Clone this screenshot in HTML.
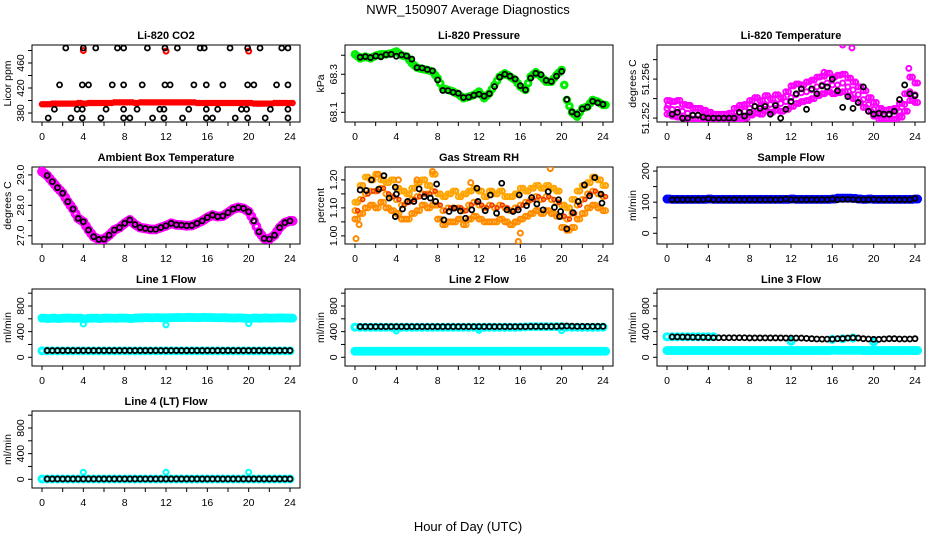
<!DOCTYPE html>
<html><head><meta charset="utf-8">
<style>
html,body{margin:0;padding:0;background:#fff;}
svg{display:block;font-family:"Liberation Sans",sans-serif;}
</style></head>
<body>
<svg id="chart" width="936" height="540" viewBox="0 0 936 540">
<text x="468" y="14" text-anchor="middle" font-size="13">NWR_150907  Average Diagnostics</text>
<text x="468" y="531" text-anchor="middle" font-size="13">Hour of Day (UTC)</text>
</svg>
<script>
const H49 = [0,0.5,1,1.5,2,2.5,3,3.5,4,4.5,5,5.5,6,6.5,7,7.5,8,8.5,9,9.5,10,10.5,11,11.5,12,12.5,13,13.5,14,14.5,15,15.5,16,16.5,17,17.5,18,18.5,19,19.5,20,20.5,21,21.5,22,22.5,23,23.5,24];
const xTicks = [0,2,4,6,8,10,12,14,16,18,20,22,24];
const xTickLabels = ["0","","4","","8","","12","","16","","20","","24"];

// CO2
const co2Red = [394,394,395,395,395,395,395,396,395,396,396,396,396,396,397,397,397,397,396,397,397,397,397,397,397,397,397,397,397,397,396,396,396,396,396,396,396,396,396,396,396,395,395,395,395,396,396,396,396];
const co2RedOutHours = [4,12,20];
const co2RedOutVals = [480,479,479];
const co2Hours = [2.3,4.0,5.2,7.3,7.9,10.2,11.9,13.1,15.3,15.7,18.2,19.9,21.1,23.2,23.8,
 1.7,3.9,4.5,6.8,7.9,9.7,11.9,12.4,14.7,15.9,17.5,19.9,20.5,22.7,23.8,
 1.2,3.4,3.9,6.2,7.9,9.2,11.4,11.8,14.2,15.9,17.0,19.3,19.8,22.1,23.8,
 0.6,2.8,3.9,5.7,7.9,8.5,10.7,11.8,13.6,15.9,16.5,18.7,19.9,21.6,23.8];
const co2Vals = [484,484,484,484,484,484,484,484,484,484,484,484,484,484,484,
 425,425,425,425,425,425,425,425,425,425,425,425,425,425,425,
 386,386,386,386,386,386,386,386,386,386,386,386,386,386,386,
 372,372,372,372,372,372,372,372,372,372,372,372,372,372,372];

// Pressure
const presGreen = [68.405,68.384,68.393,68.384,68.398,68.405,68.405,68.41,68.42,68.40,68.393,68.358,68.335,68.328,68.323,68.314,68.279,68.226,68.218,68.209,68.195,68.174,68.182,68.191,68.209,68.174,68.2,68.244,68.288,68.305,68.288,68.27,68.235,68.218,68.288,68.311,68.288,68.261,68.261,68.296,68.323,68.165,68.1,68.077,68.121,68.13,68.165,68.156,68.139];
const presBlack = [68.390,68.393,68.388,68.396,68.392,68.403,68.405,68.395,68.402,68.396,68.380,68.335,68.333,68.325,68.318,68.270,68.215,68.214,68.205,68.200,68.178,68.180,68.190,68.195,68.185,68.198,68.235,68.285,68.300,68.290,68.275,68.240,68.218,68.280,68.305,68.298,68.268,68.262,68.290,68.315,68.168,68.102,68.090,68.118,68.128,68.158,68.150,68.142];

// Li-820 temperature
const tMid = [51.2530,51.2529,51.2529,51.2527,51.2525,51.2523,51.2523,51.2522,51.2521,51.2520,51.2520,51.2520,51.2520,51.2522,51.2525,51.2527,51.2530,51.2532,51.2532,51.2534,51.2534,51.2535,51.2535,51.2537,51.2541,51.2544,51.2546,51.2547,51.2549,51.2552,51.2554,51.2556,51.2554,51.2554,51.2556,51.2552,51.2549,51.2544,51.2539,51.2534,51.2529,51.2523,51.2522,51.2523,51.2523,51.2527,51.2534,51.2547,51.2544];
const tHi = [51.2538,51.2537,51.2538,51.2534,51.2533,51.2530,51.2530,51.2528,51.2526,51.2524,51.2524,51.2524,51.2525,51.2530,51.2533,51.2534,51.2538,51.2541,51.2538,51.2543,51.2540,51.2544,51.2541,51.2547,51.2553,51.2555,51.2554,51.2557,51.2559,51.2562,51.2563,51.2566,51.2562,51.2564,51.2565,51.2561,51.2557,51.2552,51.2548,51.2541,51.2536,51.2530,51.2528,51.2529,51.2530,51.2535,51.2545,51.2562,51.2556];
const tLo = [51.2524,51.2522,51.2521,51.2520,51.2519,51.2519,51.2519,51.2519,51.2519,51.2519,51.2519,51.2519,51.2519,51.2519,51.2519,51.2520,51.2523,51.2525,51.2524,51.2527,51.2526,51.2528,51.2527,51.2529,51.2532,51.2535,51.2537,51.2538,51.2540,51.2543,51.2545,51.2547,51.2545,51.2546,51.2547,51.2543,51.2540,51.2536,51.2531,51.2527,51.2522,51.2519,51.2519,51.2519,51.2519,51.2521,51.2527,51.2538,51.2536];
const tOutHours = [17.0,17.9,15.2,23.4,0.1,2.1];
const tOutVals = [51.2595,51.2592,51.2567,51.2571,51.2533,51.2533];
const tBlack = [51.2524,51.2526,51.2520,51.2520,51.2523,51.2523,51.2521,51.2520,51.2520,51.2520,51.2520,51.2520,51.2520,51.2526,51.2522,51.2526,51.2532,51.2530,51.2532,51.2524,51.2533,51.2520,51.2529,51.2537,51.2545,51.2550,51.2529,51.2550,51.2545,51.2553,51.2552,51.2560,51.2548,51.2531,51.2542,51.2530,51.2536,51.2552,51.2527,51.2524,51.2525,51.2524,51.2524,51.2527,51.2539,51.2554,51.2545,51.2543];

// Ambient box temperature
const ambMag = [29.11,28.98,28.78,28.58,28.40,28.12,27.88,27.57,27.46,27.19,26.97,26.88,26.89,27.02,27.19,27.27,27.41,27.52,27.37,27.27,27.24,27.21,27.21,27.27,27.33,27.41,27.36,27.35,27.33,27.34,27.41,27.49,27.60,27.68,27.63,27.65,27.76,27.88,27.93,27.90,27.79,27.49,27.13,26.91,26.89,27.02,27.27,27.43,27.49];
const ambBlack = [28.98,28.78,28.58,28.40,28.12,27.88,27.57,27.46,27.19,26.97,26.88,26.89,27.02,27.19,27.27,27.41,27.52,27.37,27.27,27.24,27.21,27.21,27.27,27.33,27.41,27.36,27.35,27.33,27.34,27.41,27.49,27.60,27.68,27.63,27.65,27.76,27.88,27.93,27.90,27.79,27.49,27.13,26.91,26.89,27.02,27.27,27.43,27.49];

// Gas stream RH
const rhMid = [1.09,1.13,1.15,1.16,1.16,1.17,1.15,1.14,1.13,1.11,1.12,1.13,1.14,1.15,1.15,1.16,1.11,1.09,1.10,1.10,1.10,1.09,1.11,1.12,1.11,1.10,1.11,1.10,1.11,1.10,1.09,1.10,1.11,1.12,1.13,1.14,1.13,1.14,1.13,1.12,1.07,1.06,1.08,1.11,1.13,1.15,1.16,1.15,1.14];
const rhHi = [1.12,1.18,1.21,1.20,1.22,1.20,1.19,1.20,1.17,1.16,1.15,1.17,1.19,1.20,1.18,1.22,1.15,1.14,1.15,1.16,1.14,1.15,1.16,1.17,1.16,1.14,1.16,1.15,1.16,1.14,1.14,1.15,1.17,1.16,1.17,1.18,1.17,1.18,1.17,1.16,1.11,1.10,1.13,1.16,1.18,1.19,1.21,1.20,1.18];
const rhLo = [1.06,1.08,1.10,1.11,1.10,1.12,1.10,1.09,1.08,1.06,1.06,1.08,1.09,1.11,1.10,1.11,1.06,1.04,1.05,1.05,1.06,1.04,1.06,1.07,1.06,1.05,1.05,1.05,1.06,1.05,1.04,1.05,1.06,1.07,1.08,1.09,1.08,1.09,1.08,1.07,1.03,1.02,1.03,1.06,1.08,1.10,1.11,1.10,1.09];
const rhOutHours = [0.1,0.4,2.2,7.5,11.2,15.8,18.9,16.0,6.0,4.2];
const rhOutVals = [0.99,1.04,1.22,1.23,1.19,0.98,1.24,1.01,1.20,1.20];
const rhBlackHours = [0.5,1.1,1.6,2.3,2.8,3.3,3.9,4.0,3.9,4.6,5.1,5.7,6.2,6.7,7.3,7.8,7.9,8.6,9.1,9.6,10.2,10.7,11.3,11.8,11.9,12.6,13.1,13.7,14.2,14.7,15.3,15.8,15.9,16.6,17.1,17.6,18.2,18.7,19.3,19.7,19.8,19.9,20.5,21.1,21.6,22.2,22.7,23.2,23.8,23.9];
const rhBlackVals = [1.164,1.162,1.2,1.167,1.215,1.135,1.174,1.149,1.069,1.096,1.123,1.123,1.168,1.14,1.135,1.123,1.185,1.057,1.087,1.099,1.089,1.063,1.093,1.17,1.123,1.09,1.146,1.081,1.188,1.093,1.087,1.093,1.146,1.108,1.137,1.114,1.093,1.158,1.102,1.129,1.069,1.087,1.025,1.083,1.123,1.182,1.143,1.208,1.149,1.117];

// Sample flow
const sfBlue = [110,109,109,109,109,109,109,109,110,109,109,109,109,109,109,109,109,109,109,109,109,109,109,109,110,109,109,109,109,109,109,109,110,113,113,113,112,110,109,110,109,109,109,109,109,109,109,109,110];
const sfBlack = [108,108,108,108,108,108,108,110,108,108,108,108,108,108,108,108,108,108,108,108,108,108,110,108,108,108,108,108,108,108,108,110,108,109,109,109,108,108,108,109,108,108,108,108,108,108,108,112];

// Line 1 flow
const l1Hi = [610,605,610,605,610,612,608,610,600,608,610,605,612,610,608,612,610,605,612,614,618,615,618,614,616,618,620,618,622,620,618,622,620,618,616,618,614,612,615,610,605,612,608,614,610,612,614,612,610];
const l1Lo = [100,100,100,100,100,100,100,100,100,100,100,100,100,100,100,100,100,100,100,100,100,100,100,100,100,100,100,100,100,100,100,100,100,100,100,100,100,100,100,100,100,100,100,100,100,100,100,100,100];
const l1Black = [105,105,105,105,105,105,105,105,105,105,105,105,105,105,105,105,105,105,105,105,105,105,105,105,105,105,105,105,105,105,105,105,105,105,105,105,105,105,105,105,105,105,105,105,105,105,105,105];
const l1DipHours = [4,12,20];
const l1DipVals = [520,505,525];

// Line 2 flow
const l2Hi = [470,468,468,468,468,468,468,468,468,468,468,468,468,468,468,468,468,468,468,468,468,468,468,468,468,468,468,468,468,468,468,468,470,475,478,478,478,478,478,478,478,470,468,468,468,468,468,468,470];
const l2Lo = [95,95,95,95,95,95,95,95,95,95,95,95,95,95,95,95,95,95,95,95,95,95,95,95,95,95,95,95,95,95,95,95,95,95,95,95,95,95,95,95,95,95,95,95,95,95,95,95,95];
const l2Black = [478,478,478,478,478,478,478,478,478,478,478,478,478,478,478,478,478,478,478,478,478,478,478,478,478,478,478,478,478,478,478,478,478,480,480,480,480,480,482,485,488,485,482,482,482,482,482,482];
const l2DipHours = [4,12,20];
const l2DipVals = [410,420,415];

// Line 3 flow
const l3HiHours = [0,0.5,1,1.5,2,2.5,3,3.5,4,4.5,12,16,17,18,20];
const l3HiVals = [320,320,320,320,320,320,320,320,320,320,250,280,290,300,240];
const l3Lo = [105,105,105,105,105,105,105,105,105,105,105,105,105,105,105,105,105,105,105,105,105,105,105,105,105,105,105,105,105,105,105,105,110,108,108,108,108,108,105,105,105,105,105,105,105,105,105,105,105];
const l3Black = [318,318,316,315,312,310,310,308,305,305,305,305,305,305,305,302,302,302,302,302,302,302,300,300,300,300,295,290,285,283,283,283,290,292,300,305,300,290,285,280,280,285,290,290,285,285,285,290];

// Line 4 flow
const l4Cyan = [5,5,5,5,5,5,5,5,5,5,5,5,5,5,5,5,5,5,5,5,5,5,5,5,5,5,5,5,5,5,5,5,5,5,5,5,5,5,5,5,5,5,5,5,5,5,5,5,5];
const l4Black = [5,5,5,5,5,5,5,5,5,5,5,5,5,5,5,5,5,5,5,5,5,5,5,5,5,5,5,5,5,5,5,5,5,5,5,5,5,5,5,5,5,5,5,5,5,5,5,5];
const l4OutHours = [4,12,20];
const l4OutVals = [110,110,110];

const NS = "http://www.w3.org/2000/svg";
const svg = document.getElementById('chart');
const colX = [32,345,657], rowY = [45,167,289,411], BW = 268, BH = 77;

function mk(tag, attrs, parent){
  const e = document.createElementNS(NS, tag);
  for (const k in attrs) e.setAttribute(k, attrs[k]);
  parent.appendChild(e);
  return e;
}

function panel(col,row,title,ylab,ylim,yticks,ylabels,name){
  const x0 = colX[col], y0 = rowY[row];
  const g = mk('g',{},svg);
  
  
  const sx = h => x0 + 10 + (h/24)*(BW-20);
  const sy = v => y0 + BH - (v - ylim[0])/(ylim[1]-ylim[0])*BH;
  const t = mk('text',{x:x0+BW/2,y:y0-6,'text-anchor':'middle','font-size':11,'font-weight':'bold'},g);
  t.textContent = title;
  
  
  const box = mk('rect',{x:x0,y:y0,width:BW,height:BH,fill:'none',stroke:'#000','stroke-width':1},g);
  
  
  const xa = mk('g',{},g);
  
  
  mk('line',{x1:sx(0),x2:sx(24),y1:y0+BH,y2:y0+BH,stroke:'#000'},xa);
  xTicks.forEach((h,i)=>{
    mk('line',{x1:sx(h),x2:sx(h),y1:y0+BH,y2:y0+BH+4,stroke:'#000'},xa);
    if (xTickLabels[i]) {
      const l = mk('text',{x:sx(h),y:y0+BH+18,'text-anchor':'middle','font-size':10.5},xa);
      l.textContent = xTickLabels[i];
      
      
    }
  });
  const ya = mk('g',{},g);
  
  
  mk('line',{x1:x0,x2:x0,y1:sy(yticks[0]),y2:sy(yticks[yticks.length-1]),stroke:'#000'},ya);
  yticks.forEach((v,i)=>{
    mk('line',{x1:x0-4,x2:x0,y1:sy(v),y2:sy(v),stroke:'#000'},ya);
    if (ylabels[i]) {
      const l = mk('text',{x:x0-8,y:sy(v),'text-anchor':'middle','font-size':10.5,transform:`rotate(-90 ${x0-8} ${sy(v)})`},ya);
      l.textContent = ylabels[i];
      
      
    }
  });
  const yl = mk('text',{x:x0-21,y:y0+BH/2,'text-anchor':'middle','font-size':10.5,transform:`rotate(-90 ${x0-21} ${y0+BH/2})`},g);
  yl.textContent = ylab;
  
  
  const clip = 'clip-' + name;
  const cp = mk('clipPath',{id:clip},g);
  mk('rect',{x:x0,y:y0,width:BW,height:BH},cp);
  const pts = mk('g',{'clip-path':`url(#${clip})`},g);
  
  
  return {sx, sy, g:pts};
}

function dots(p, hours, vals, color, r, sw, name){
  const n = Math.min(hours.length, vals.length);
  for (let i=0;i<n;i++){
    const c = mk('circle',{cx:p.sx(hours[i]),cy:p.sy(vals[i]),r:r,fill:'none',stroke:color,'stroke-width':sw},p.g);
    
    
  }
}
const HB = H49.slice(1);
const HQ = H49.map(h=>h+0.25);

// Panel 1
let p = panel(0,0,'Li-820 CO2','Licor ppm',[365.6,488.8],[380,400,420,440,460,480],['380','','420','','460',''],'co2');
dots(p,H49,co2Red,'#ff0000',2,2.5,'co2-red-point');
dots(p,HQ,co2Red,'#ff0000',2,2.5,'co2-red-point');
dots(p,co2RedOutHours,co2RedOutVals,'#ff0000',2.5,2,'co2-red-outlier');
dots(p,co2Hours,co2Vals,'#000',2.5,1.8,'co2-avg-point');

// Panel 2
p = panel(1,0,'Li-820 Pressure','kPa',[68.049,68.454],[68.1,68.2,68.3,68.4],['68.1','','68.3',''],'pressure');
dots(p,H49,presGreen,'#00ee00',2.8,3,'pressure-green-point');
dots(p,HQ,presGreen.map((v,i)=>i<48?(v+presGreen[i+1])/2:v),'#00ee00',2.8,3,'pressure-green-point');
dots(p,HB,presBlack,'#000',2.5,1.8,'pressure-avg-point');

// Panel 3
p = panel(2,0,'Li-820 Temperature','degrees C',[51.2516,51.2595],[51.252,51.254,51.256,51.258],['51.252','','51.256',''],'li820-temp');
dots(p,H49,tMid,'#ff00ff',2.5,2,'temp-magenta-point');
dots(p,HQ,tHi,'#ff00ff',2.5,2,'temp-magenta-point');
dots(p,HQ,tLo,'#ff00ff',2.5,2,'temp-magenta-point');
dots(p,H49,tHi,'#ff00ff',2.5,2,'temp-magenta-point');
dots(p,H49,tLo,'#ff00ff',2.5,2,'temp-magenta-point');
dots(p,tOutHours,tOutVals,'#ff00ff',2.5,2,'temp-magenta-outlier');
dots(p,HB,tBlack,'#000',2.5,1.8,'temp-avg-point');

// Panel 4
p = panel(0,1,'Ambient Box Temperature','degrees C',[26.73,29.26],[27,27.5,28,28.5,29],['27.0','','28.0','','29.0'],'ambient-temp');
dots(p,H49,ambMag,'#ff00ff',3.2,3.5,'ambient-magenta-point');
dots(p,HQ,ambMag.map((v,i)=>i<48?(v+ambMag[i+1])/2:v),'#ff00ff',3.2,3.5,'ambient-magenta-point');
dots(p,HB,ambBlack,'#000',2.5,1.8,'ambient-avg-point');

// Panel 5
p = panel(1,1,'Gas Stream RH','percent',[0.971,1.246],[1.0,1.05,1.1,1.15,1.2],['1.00','','1.10','','1.20'],'rh');
dots(p,H49,rhMid,'#ff9900',2.5,2,'rh-orange-point');
dots(p,HQ,rhHi,'#ff9900',2.5,2,'rh-orange-point');
dots(p,HQ,rhLo,'#ff9900',2.5,2,'rh-orange-point');
dots(p,H49,rhHi,'#ffaa00',2.5,2,'rh-orange-point');
dots(p,H49,rhLo,'#ff8800',2.5,2,'rh-orange-point');
dots(p,HQ,rhMid,'#ee3300',2,1.5,'rh-orange-point');
dots(p,rhOutHours,rhOutVals,'#ff8800',2.5,2,'rh-orange-outlier');
dots(p,rhBlackHours,rhBlackVals,'#000',2.5,1.8,'rh-avg-point');

// Panel 6
p = panel(2,1,'Sample Flow','ml/min',[-34.5,213],[0,50,100,150,200],['0','','100','','200'],'sample-flow');
dots(p,H49,sfBlue,'#0000ff',3,3,'sample-flow-blue-point');
dots(p,HQ,sfBlue,'#0000ff',3,3,'sample-flow-blue-point');
dots(p,HB,sfBlack,'#000',2.5,1.8,'sample-flow-avg-point');

const flowTicks = [0,200,400,600,800,1000], flowLabels = ['0','','400','','800',''], flowLim = [-136,1065];
// Panel 7
p = panel(0,2,'Line 1 Flow','ml/min',flowLim,flowTicks,flowLabels,'line1-flow');
dots(p,H49,l1Hi,'#00ffff',3,3,'line1-cyan-point');
dots(p,HQ,l1Hi,'#00ffff',3,3,'line1-cyan-point');
dots(p,H49,l1Lo,'#00ffff',3,3,'line1-cyan-point');
dots(p,l1DipHours,l1DipVals,'#00ffff',2.5,2,'line1-cyan-dip');
dots(p,HB,l1Black,'#000',2.5,1.8,'line1-avg-point');

// Panel 8
p = panel(1,2,'Line 2 Flow','ml/min',flowLim,flowTicks,flowLabels,'line2-flow');
dots(p,H49,l2Hi,'#00ffff',3,3,'line2-cyan-point');
dots(p,H49,l2Lo,'#00ffff',3,3,'line2-cyan-point');
dots(p,HQ,l2Lo,'#00ffff',3,3,'line2-cyan-point');
dots(p,l2DipHours,l2DipVals,'#00ffff',2.5,2,'line2-cyan-dip');
dots(p,HB,l2Black,'#000',2.5,1.8,'line2-avg-point');

// Panel 9
p = panel(2,2,'Line 3 Flow','ml/min',flowLim,flowTicks,flowLabels,'line3-flow');
dots(p,l3HiHours,l3HiVals,'#00ffff',3,3,'line3-cyan-point');
dots(p,H49,l3Lo,'#00ffff',3,3,'line3-cyan-point');
dots(p,HQ,l3Lo,'#00ffff',3,3,'line3-cyan-point');
dots(p,HB,l3Black,'#000',2.5,1.8,'line3-avg-point');

// Panel 10
p = panel(0,3,'Line 4 (LT) Flow','ml/min',flowLim,flowTicks,flowLabels,'line4-flow');
dots(p,H49,l4Cyan,'#00ffff',3,3,'line4-cyan-point');
dots(p,l4OutHours,l4OutVals,'#00ffff',2.5,2,'line4-cyan-outlier');
dots(p,HB,l4Black,'#000',2.5,1.8,'line4-avg-point');
</script>
</body></html>
